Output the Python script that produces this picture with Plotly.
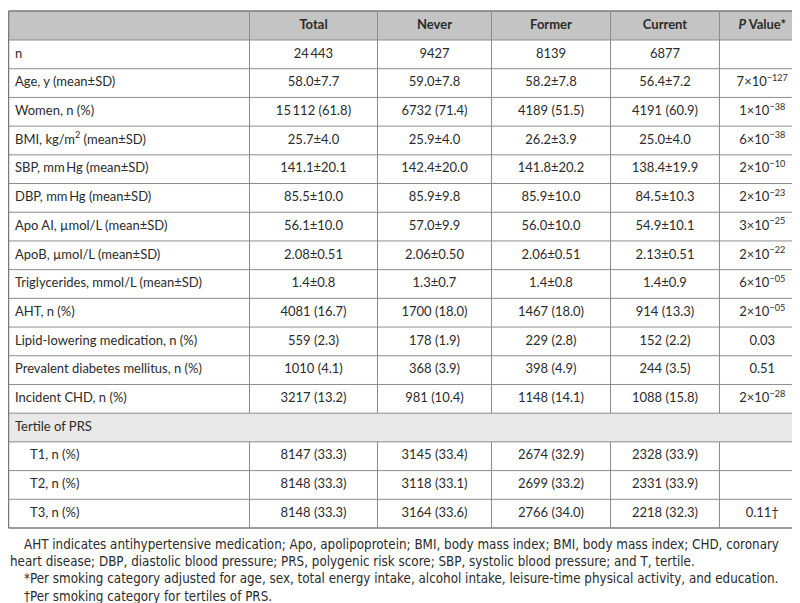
import plotly.graph_objects as go

# ---------------- data ----------------
columns = ["", "<b>Total</b>", "<b>Never</b>", "<b>Former</b>", "<b>Current</b>", "<b><i>P</i> Value*</b>"]

row_labels = ["n", "Age, y (mean±SD)", "Women, n (%)", "BMI, kg/m<sup>2</sup> (mean±SD)",
              "SBP, mm\u2009Hg (mean±SD)", "DBP, mm\u2009Hg (mean±SD)", "Apo AI, µmol/L (mean±SD)",
              "ApoB, µmol/L (mean±SD)", "Triglycerides, mmol/L (mean±SD)", "AHT, n (%)",
              "Lipid-lowering medication, n (%)", "Prevalent diabetes mellitus, n (%)",
              "Incident CHD, n (%)"]
total = ["24\u2009443", "58.0±7.7", "15\u2009112 (61.8)", "25.7±4.0", "141.1±20.1", "85.5±10.0",
         "56.1±10.0", "2.08±0.51", "1.4±0.8", "4081 (16.7)", "559 (2.3)", "1010 (4.1)", "3217 (13.2)"]
never = ["9427", "59.0±7.8", "6732 (71.4)", "25.9±4.0", "142.4±20.0", "85.9±9.8", "57.0±9.9",
         "2.06±0.50", "1.3±0.7", "1700 (18.0)", "178 (1.9)", "368 (3.9)", "981 (10.4)"]
former = ["8139", "58.2±7.8", "4189 (51.5)", "26.2±3.9", "141.8±20.2", "85.9±10.0", "56.0±10.0",
          "2.06±0.51", "1.4±0.8", "1467 (18.0)", "229 (2.8)", "398 (4.9)", "1148 (14.1)"]
current = ["6877", "56.4±7.2", "4191 (60.9)", "25.0±4.0", "138.4±19.9", "84.5±10.3", "54.9±10.1",
           "2.13±0.51", "1.4±0.9", "914 (13.3)", "152 (2.2)", "244 (3.5)", "1088 (15.8)"]
pvals = ["", "7×10<sup>−127</sup>", "1×10<sup>−38</sup>", "6×10<sup>−38</sup>", "2×10<sup>−10</sup>",
         "2×10<sup>−23</sup>", "3×10<sup>−25</sup>", "2×10<sup>−22</sup>", "6×10<sup>−05</sup>",
         "2×10<sup>−05</sup>", "0.03", "0.51", "2×10<sup>−28</sup>"]

section_label = "Tertile of PRS"
tert_labels = ["T1, n (%)", "T2, n (%)", "T3, n (%)"]
tert_total = ["8147 (33.3)", "8148 (33.3)", "8148 (33.3)"]
tert_never = ["3145 (33.4)", "3118 (33.1)", "3164 (33.6)"]
tert_former = ["2674 (32.9)", "2699 (33.2)", "2766 (34.0)"]
tert_current = ["2328 (33.9)", "2331 (33.9)", "2218 (32.3)"]
tert_p = ["", "", "0.11†"]

footnotes = [
    "AHT indicates antihypertensive medication; Apo, apolipoprotein; BMI, body mass index; BMI, body mass index; CHD, coronary",
    "heart disease; DBP, diastolic blood pressure; PRS, polygenic risk score; SBP, systolic blood pressure; and T, tertile.",
    "*Per smoking category adjusted for age, sex, total energy intake, alcohol intake, leisure-time physical activity, and education.",
    "†Per smoking category for tertiles of PRS.",
]
foot_indent = [True, False, True, True]

# ---------------- layout geometry ----------------
W, H = 800, 603
col_widths = [241, 128, 114, 119, 109, 86]
FONT = "Lato"
FOOT_FONT = "DejaVu Sans Condensed"
TXT = "#2b2b2b"
LINE = "#8c8c8c"
OUTER = "#7a7a7a"
HEAD_BG = "#c4c4c4"
SEC_BG = "#e8e8e8"
top_px = 3
head_bottom = 32
n_rows = len(row_labels) + 1 + len(tert_labels)
row_h = (520 - head_bottom) / n_rows
right = sum(col_widths)

col_edges = [0.5]
for w in col_widths:
    col_edges.append(col_edges[-1] + w)
col_edges[-1] = right
col_centers = [(col_edges[i] + col_edges[i + 1]) / 2 for i in range(len(col_widths))]

row_edges = [top_px, head_bottom] + [head_bottom + (k + 1) * row_h for k in range(n_rows)]
row_centers = [(row_edges[i] + row_edges[i + 1]) / 2 for i in range(len(row_edges) - 1)]
sec_idx = 1 + len(row_labels)          # index of section row in row_centers
table_bottom = row_edges[-1]

fig = go.Figure()

lab_col = [columns[0]] + row_labels + [section_label] + tert_labels
data_cols = [
    [columns[1]] + total + [""] + tert_total,
    [columns[2]] + never + [""] + tert_never,
    [columns[3]] + former + [""] + tert_former,
    [columns[4]] + current + [""] + tert_current,
    [columns[5]] + pvals + [""] + tert_p,
]

def add_text(xs, ys, texts, pos):
    keep = [(x, y, t) for x, y, t in zip(xs, ys, texts) if t]
    fig.add_trace(go.Scatter(
        x=[k[0] for k in keep], y=[k[1] for k in keep], text=[k[2] for k in keep],
        mode="text", textposition=pos,
        textfont=dict(family=FONT, size=13, color=TXT), hoverinfo="skip", showlegend=False,
    ))

lab_x = [22 if i > sec_idx else 7 for i in range(len(lab_col))]
add_text(lab_x, row_centers, lab_col, "middle right")
for j, vals in enumerate(data_cols):
    add_text([col_centers[j + 1]] * len(vals), row_centers, vals, "middle center")

shapes = []
shapes.append(dict(type="rect", x0=0, x1=right, y0=row_edges[0], y1=row_edges[1],
                   fillcolor=HEAD_BG, line_width=0, layer="below"))
shapes.append(dict(type="rect", x0=0, x1=right, y0=row_edges[sec_idx], y1=row_edges[sec_idx + 1],
                   fillcolor=SEC_BG, line_width=0, layer="below"))
for k, y in enumerate(row_edges):
    outer = k in (0, len(row_edges) - 1)
    shapes.append(dict(type="line", x0=col_edges[0], x1=right, y0=y, y1=y,
                       line=dict(color=OUTER if outer else LINE, width=1.5 if outer else 1)))
for k, x in enumerate(col_edges):
    outer = k in (0, len(col_edges) - 1)
    if outer:
        shapes.append(dict(type="line", x0=x, x1=x, y0=row_edges[0], y1=table_bottom,
                           line=dict(color=OUTER, width=1.5)))
    else:
        shapes.append(dict(type="line", x0=x, x1=x, y0=row_edges[0], y1=row_edges[sec_idx],
                           line=dict(color=LINE, width=1)))
        shapes.append(dict(type="line", x0=x, x1=x, y0=row_edges[sec_idx + 1], y1=table_bottom,
                           line=dict(color=LINE, width=1)))

for i, (t, ind) in enumerate(zip(footnotes, foot_indent)):
    fig.add_annotation(
        text=t, xref="x", yref="y",
        x=(14 if ind else 0), y=536 + i * 17.4,
        xanchor="left", yanchor="middle", showarrow=False,
        font=dict(family=FOOT_FONT, size=13.3, color=TXT),
    )

fig.update_layout(
    width=W, height=H, margin=dict(l=0, r=0, t=0, b=0),
    paper_bgcolor="white", plot_bgcolor="white", shapes=shapes,
    xaxis=dict(range=[0, W], visible=False, fixedrange=True),
    yaxis=dict(range=[H, 0], visible=False, fixedrange=True),
)

fig.write_html("out.html")
